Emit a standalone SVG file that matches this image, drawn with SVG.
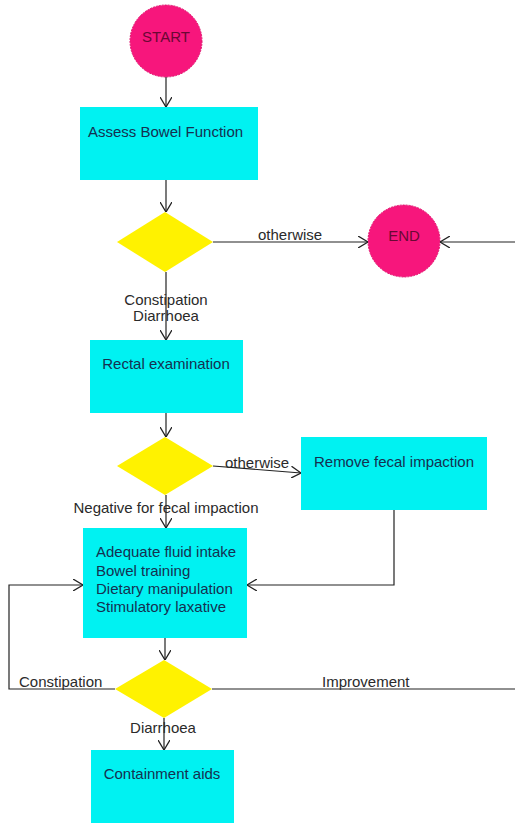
<svg xmlns="http://www.w3.org/2000/svg" width="515" height="823" viewBox="0 0 515 823">
<defs>
<marker id="arr" viewBox="0 0 10 12" refX="10" refY="6" markerWidth="10" markerHeight="12" markerUnits="userSpaceOnUse" orient="auto">
<path d="M0,0 L10,6 L0,12" fill="none" stroke="#222" stroke-width="1.3"/>
</marker>
<style>
.term{fill:#f7167c;stroke:#e0106c;stroke-width:1;stroke-dasharray:2 1}
.box{fill:#00f2f2}
.dec{fill:#fff200}
.t{font-family:"Liberation Sans",Arial,sans-serif;font-size:15px;fill:#2a2a2a}
.bt{font-family:"Liberation Sans",Arial,sans-serif;font-size:15px;fill:#153050}
.ct{font-family:"Liberation Sans",Arial,sans-serif;font-size:15px;fill:#6a0834;text-anchor:middle}
.c{fill:none;stroke:#222;stroke-width:1.2;marker-end:url(#arr)}
</style>
</defs>
<rect width="515" height="823" fill="#ffffff"/>
<g id="start"><circle class="term" cx="166" cy="41" r="36"/><text class="ct" x="166" y="42">START</text></g>
<g id="assess"><rect class="box" x="80" y="107" width="178" height="73"/><text class="bt" x="88" y="137">Assess Bowel Function</text></g>
<g id="decision1"><polygon class="dec" points="117,242 165,212 213,242 165,272"/></g>
<g id="end"><circle class="term" cx="404" cy="241" r="36"/><text class="ct" x="404" y="241">END</text></g>
<g id="rectal"><rect class="box" x="90" y="340" width="153" height="73"/><text class="bt" x="166" y="369" text-anchor="middle">Rectal examination</text></g>
<g id="decision2"><polygon class="dec" points="117,466 165,437 213,466 165,495"/></g>
<g id="remove"><rect class="box" x="301" y="437" width="186" height="73"/><text class="bt" x="394" y="467" text-anchor="middle">Remove fecal impaction</text></g>
<g id="treatment"><rect class="box" x="83" y="528" width="164" height="110"/>
<text class="bt" x="96" y="557">Adequate fluid intake</text>
<text class="bt" x="96" y="576">Bowel training</text>
<text class="bt" x="96" y="594">Dietary manipulation</text>
<text class="bt" x="96" y="612">Stimulatory laxative</text></g>
<g id="decision3"><polygon class="dec" points="115,689 164,660 212,689 164,718"/></g>
<g id="containment"><rect class="box" x="91" y="750" width="143" height="73"/><text class="bt" x="162" y="779" text-anchor="middle">Containment aids</text></g>
<g id="connectors">
<path class="c" d="M166,77 V107"/>
<path class="c" d="M166,180 V212"/>
<path class="c" d="M213,242 H368"/>
<path class="c" d="M166,272 V340"/>
<path class="c" d="M166,413 V437"/>
<path class="c" d="M213,466 L301,473"/>
<path class="c" d="M166,495 V528"/>
<path class="c" d="M394,510 V585 H247"/>
<path class="c" d="M165,638 V660"/>
<path class="c" d="M115,689 H9 V585 H83"/>
<path class="c" d="M212,689 H525 V242 H440"/>
<path class="c" d="M164,718 V750"/>
<text class="t" x="258" y="240">otherwise</text>
<text class="t" x="166" y="305" text-anchor="middle">Constipation</text>
<text class="t" x="166" y="321" text-anchor="middle">Diarrhoea</text>
<text class="t" x="225" y="468">otherwise</text>
<text class="t" x="166" y="513" text-anchor="middle">Negative for fecal impaction</text>
<text class="t" x="19" y="687">Constipation</text>
<text class="t" x="322" y="687">Improvement</text>
<text class="t" x="163" y="733" text-anchor="middle">Diarrhoea</text>
</g>
</svg>
